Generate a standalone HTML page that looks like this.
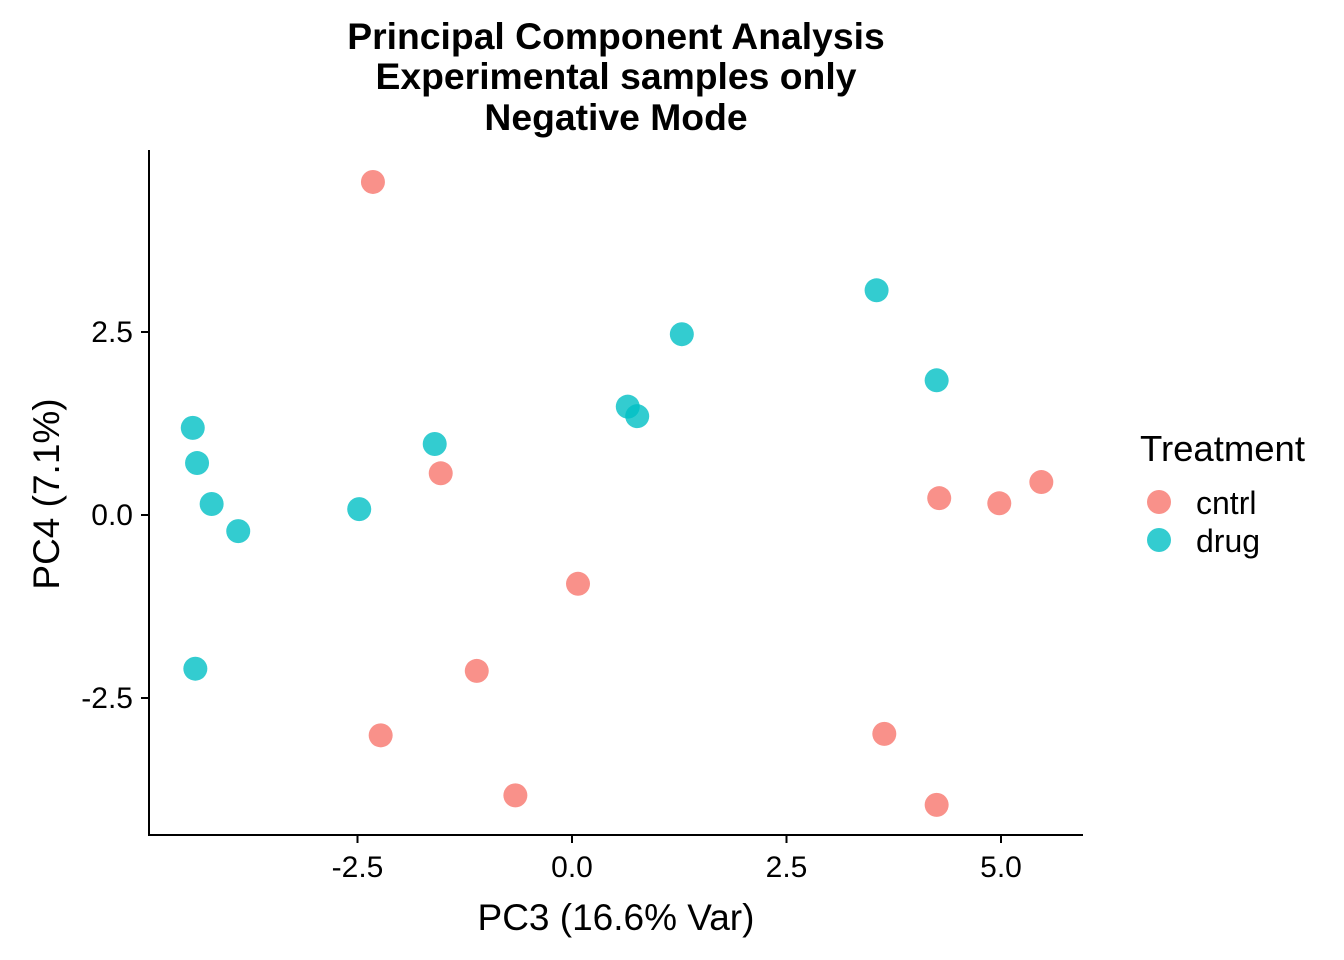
<!DOCTYPE html>
<html><head><meta charset="utf-8"><style>
body{margin:0;background:#fff;}
svg{display:block;font-family:"Liberation Sans",Arial,sans-serif;}
</style></head><body>
<svg id="chart" width="1344" height="960" viewBox="0 0 1344 960">
<rect width="1344" height="960" fill="#fff"/>
<g font-weight="bold" font-size="37.3" text-anchor="middle" fill="#000">
<text x="616" y="49">Principal Component Analysis</text>
<text x="616" y="89">Experimental samples only</text>
<text x="616" y="130">Negative Mode</text>
</g>
<line x1="149" y1="150" x2="149" y2="835" stroke="#000" stroke-width="2"/>
<line x1="148" y1="835" x2="1083" y2="835" stroke="#000" stroke-width="2"/>
<g id="xticks"></g>
<g id="yticks"></g>
<g id="points"></g>
<text x="616" y="930" font-size="37" text-anchor="middle">PC3 (16.6% Var)</text>
<text transform="translate(59,494) rotate(-90)" font-size="37" text-anchor="middle">PC4 (7.1%)</text>
<g>
<text x="1140" y="461" font-size="36.5">Treatment</text>
<circle cx="1159" cy="502" r="12" fill="#F8766D" fill-opacity="0.8"/>
<text x="1196" y="514" font-size="32">cntrl</text>
<circle cx="1159" cy="540" r="12" fill="#00BFC4" fill-opacity="0.8"/>
<text x="1196" y="552" font-size="32">drug</text>
</g>
</svg>
<script>
const xTicks=[-2.5,0,2.5,5];
const xTickLabels=["-2.5","0.0","2.5","5.0"];
const yTicks=[2.5,0,-2.5];
const yTickLabels=["2.5","0.0","-2.5"];
const cntrlX=[-2.32,-1.53,0.07,-1.11,-2.23,-0.66,3.64,4.25,4.28,4.98,5.47];
const cntrlY=[4.55,0.57,-0.94,-2.13,-3.01,-3.83,-2.99,-3.96,0.23,0.16,0.45];
const drugX=[3.55,1.28,4.25,0.65,0.76,-1.60,-2.48,-4.42,-4.37,-4.20,-3.89,-4.39];
const drugY=[3.07,2.47,1.84,1.48,1.35,0.97,0.08,1.19,0.71,0.15,-0.22,-2.10];
const NS="http://www.w3.org/2000/svg";
function sx(v){return 572+v*85.8;}
function sy(v){return 515-v*73.2;}
const xt=document.getElementById('xticks');
xTicks.forEach((t,i)=>{
  const l=document.createElementNS(NS,'line');
  
  
  l.setAttribute('x1',sx(t));l.setAttribute('x2',sx(t));l.setAttribute('y1',835);l.setAttribute('y2',843);
  l.setAttribute('stroke','#000');l.setAttribute('stroke-width','2');xt.appendChild(l);
  const tx=document.createElementNS(NS,'text');
  
  
  tx.setAttribute('x',sx(t));tx.setAttribute('y',877);tx.setAttribute('font-size','30');tx.setAttribute('text-anchor','middle');
  tx.textContent=xTickLabels[i];xt.appendChild(tx);
});
const yt=document.getElementById('yticks');
yTicks.forEach((t,i)=>{
  const l=document.createElementNS(NS,'line');
  
  
  l.setAttribute('x1',141);l.setAttribute('x2',149);l.setAttribute('y1',sy(t));l.setAttribute('y2',sy(t));
  l.setAttribute('stroke','#000');l.setAttribute('stroke-width','2');yt.appendChild(l);
  const tx=document.createElementNS(NS,'text');
  
  
  tx.setAttribute('x',133);tx.setAttribute('y',sy(t)+10);tx.setAttribute('font-size','30');tx.setAttribute('text-anchor','end');
  tx.textContent=yTickLabels[i];yt.appendChild(tx);
});
const pg=document.getElementById('points');
function draw(xs,ys,color,name){
  xs.forEach((x,i)=>{
    const c=document.createElementNS(NS,'circle');
    
    
    c.setAttribute('cx',sx(x));c.setAttribute('cy',sy(ys[i]));c.setAttribute('r',12);
    c.setAttribute('fill',color);c.setAttribute('fill-opacity','0.8');
    pg.appendChild(c);
  });
}
draw(cntrlX,cntrlY,'#F8766D','point-cntrl');
draw(drugX,drugY,'#00BFC4','point-drug');
</script>
</body></html>
